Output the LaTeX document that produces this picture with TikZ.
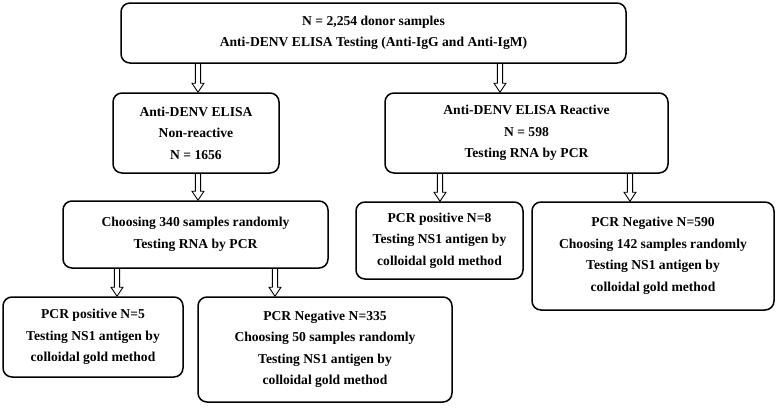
\documentclass[tikz,border=0pt]{standalone}
\usepackage{fontspec}
\setmainfont{Liberation Serif}
\usetikzlibrary{calc}
\begin{document}
\begin{tikzpicture}[x=1pt,y=-1pt,
  box/.style={draw, line width=1.5pt, rounded corners=9pt, align=center,
    font=\bfseries\fontsize{13.6}{21.5}\selectfont, inner sep=0pt},
  bigarrow/.style={line width=0.9pt, to path={let \p1=(\tikztostart), \p2=(\tikztotarget) in
    (\x1-2.6pt,\y1) -- (\x1-2.6pt,\y2+9pt) -- (\x1-6pt,\y2+9pt) -- (\x1,\y2)
    -- (\x1+6pt,\y2+9pt) -- (\x1+2.6pt,\y2+9pt) -- (\x1+2.6pt,\y1)}}]
\useasboundingbox[fill=white] (0,0) rectangle (778,407);

\node[box, minimum width=505pt, minimum height=60pt] (top) at (373.5,33)
  {N = 2,254 donor samples\\Anti-DENV ELISA Testing (Anti-IgG and Anti-IgM)};
\node[box, minimum width=166pt, minimum height=80pt] (nonreact) at (196,133)
  {Anti-DENV ELISA\\Non-reactive\\N = 1656};
\node[box, minimum width=283pt, minimum height=80pt] (react) at (526.5,133)
  {Anti-DENV ELISA Reactive\\N = 598\\Testing RNA by PCR};
\node[box, minimum width=265pt, minimum height=67pt] (choose) at (195.5,234.5)
  {Choosing 340 samples randomly\\Testing RNA by PCR};
\node[box, minimum width=167pt, minimum height=77pt] (pos8) at (439.5,240.5)
  {PCR positive N=8\\Testing NS1 antigen by\\colloidal gold method};
\node[box, minimum width=242pt, minimum height=108pt] (neg590) at (653,256)
  {PCR Negative N=590\\Choosing 142 samples randomly\\Testing NS1 antigen by\\colloidal gold method};
\node[box, minimum width=180pt, minimum height=80pt] (pos5) at (93,337)
  {PCR positive N=5\\Testing NS1 antigen by\\colloidal gold method};
\node[box, minimum width=254pt, minimum height=105pt] (neg335) at (325,349.5)
  {PCR Negative N=335\\Choosing 50 samples randomly\\Testing NS1 antigen by\\colloidal gold method};

\coordinate (ax1) at (198,0);
\coordinate (ax2) at (500,0);
\coordinate (ax3) at (198,0);
\coordinate (ax4) at (440,0);
\coordinate (ax5) at (630,0);
\coordinate (ax6) at (117,0);
\coordinate (ax7) at (275,0);

\draw[bigarrow] (top.south -| ax1) to (nonreact.north -| ax1);
\draw[bigarrow] (top.south -| ax2) to (react.north -| ax2);
\draw[bigarrow] (nonreact.south -| ax3) to (choose.north -| ax3);
\draw[bigarrow] (react.south -| ax4) to (pos8.north -| ax4);
\draw[bigarrow] (react.south -| ax5) to (neg590.north -| ax5);
\draw[bigarrow] (choose.south -| ax6) to (pos5.north -| ax6);
\draw[bigarrow] (choose.south -| ax7) to (neg335.north -| ax7);
\end{tikzpicture}
\end{document}
